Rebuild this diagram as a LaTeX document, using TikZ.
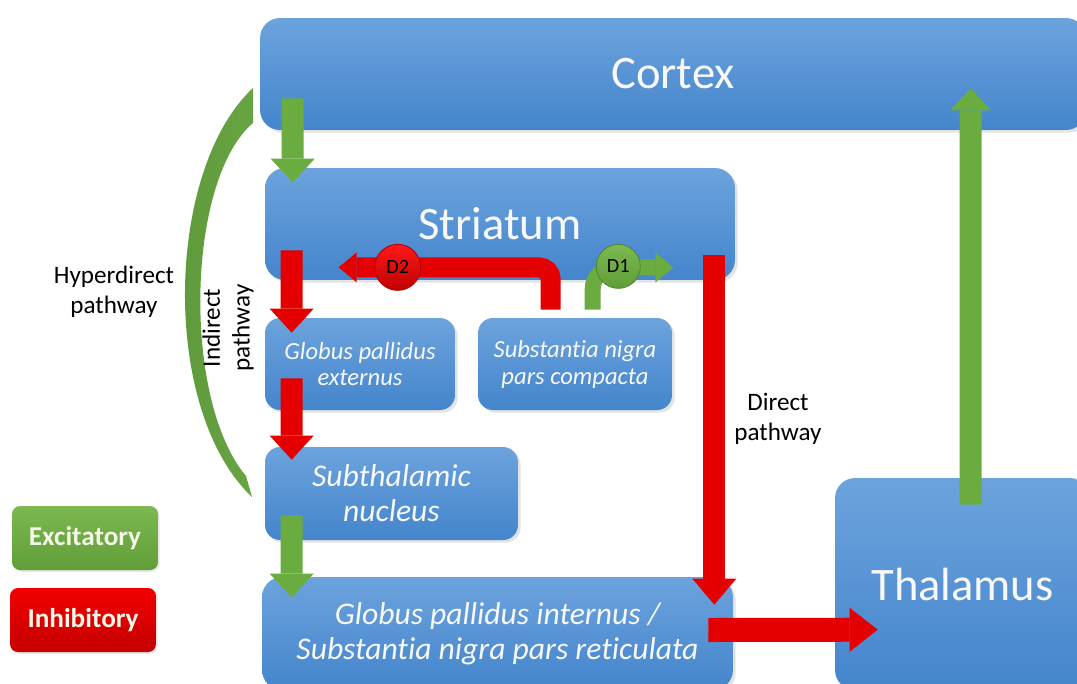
\documentclass[tikz,border=0pt]{standalone}
\usepackage{fontspec}
\setmainfont{Carlito}[Ligatures={NoCommon,NoDiscretionary}]
\usetikzlibrary{arrows.meta,calc,shadows}
\definecolor{boxtop}{RGB}{108,163,221}
\definecolor{boxbot}{RGB}{68,133,204}
\definecolor{grn}{RGB}{106,172,64}
\definecolor{hypgrn}{RGB}{92,150,58}
\definecolor{hypgrnb}{RGB}{104,165,66}
\definecolor{rd}{RGB}{228,0,0}
\definecolor{legga}{RGB}{125,184,80}
\definecolor{leggb}{RGB}{96,158,56}
\definecolor{legra}{RGB}{242,0,0}
\definecolor{legrb}{RGB}{196,0,0}
\definecolor{txtw}{RGB}{248,248,248}
\definecolor{legtxt}{RGB}{245,245,232}
\tikzset{
  box/.style={rounded corners=0.4cm, top color=boxtop, bottom color=boxbot, draw=none,
    text=txtw, align=center, inner sep=0pt,
    drop shadow={opacity=0.22, shadow xshift=1.5pt, shadow yshift=-1.5pt}},
  bigtxt/.style={font=\fontsize{26.5}{31}\selectfont},
  smalltxt/.style={font=\itshape\fontsize{14}{15.3}\selectfont},
  midtxt/.style={font=\itshape\fontsize{18}{20}\selectfont},
  lbl/.style={align=center, font=\fontsize{14.3}{17}\selectfont, text=black},
  exc/.style={draw=grn, line width=0.44cm, -{Triangle[width=0.88cm,length=0.48cm,line width=0pt]}},
  inh/.style={draw=rd, line width=0.44cm, -{Triangle[width=0.88cm,length=0.48cm,line width=0pt]}},
  legbox/.style={rounded corners=0.16cm, draw=none, minimum width=2.92cm, minimum height=1.28cm,
    text=legtxt, font=\bfseries\fontsize{15.5}{18}\selectfont,
    drop shadow={opacity=0.2, shadow xshift=1pt, shadow yshift=-1pt}},
  dcirc/.style={circle, inner sep=0pt, text=black, font=\fontsize{11.5}{13}\selectfont}
}
\begin{document}
\begin{tikzpicture}[x=0.02cm,y=-0.02cm]
\useasboundingbox (0,0) rectangle (1077,683);
\clip (0,0) rectangle (1077,683);
% boxes
\node[box, bigtxt, minimum width=16.52cm, minimum height=2.24cm] (cortex) at (673,74) {Cortex};
\node[box, bigtxt, minimum width=9.4cm, minimum height=2.24cm] (striatum) at (500,224) {Striatum};
\node[box, smalltxt, rounded corners=0.3cm, minimum width=3.8cm, minimum height=1.84cm] (gpe) at (360,364) {Globus pallidus\\externus};
\node[box, smalltxt, rounded corners=0.3cm, minimum width=3.88cm, minimum height=1.84cm] (snc) at (575,364) {Substantia nigra\\pars compacta};
\node[box, midtxt, rounded corners=0.3cm, minimum width=5.06cm, minimum height=1.86cm] (stn) at (391.5,493.5) {Subthalamic\\nucleus};
\node[box, midtxt, minimum width=9.42cm, minimum height=2.26cm] (gpi) at (497.5,633.5) {Globus pallidus internus /\\Substantia nigra pars reticulata};
\node[box, bigtxt, minimum width=5.1cm, minimum height=4.24cm] (thal) at (962.5,584) {Thalamus};
% hyperdirect crescent
\shade[left color=hypgrn, right color=hypgrnb] (253,88) .. controls (165,170) and (160,410) .. (252,497)
  -- (246,476) .. controls (182,400) and (186,180) .. (253,123) -- cycle;
% main arrows
\draw[exc] ($(cortex.south west)+(33,-32)$) -- ($(striatum.north west)+(28,15)$);
\draw[inh] ($(striatum.south west)+(27,-30)$) -- ($(gpe.north west)+(27,15)$);
\draw[inh] ($(gpe.south west)+(27,-32)$) -- ($(stn.north west)+(27,13)$);
\draw[exc] ($(stn.south west)+(27,-25)$) -- ($(gpi.north west)+(30,21)$);
\draw[inh, -{Triangle[width=0.88cm,length=0.52cm,line width=0pt]}] ($(striatum.south east)+(-21,-25)$) -- ($(gpi.north east)+(-19,28)$);
\draw[inh, line width=0.48cm, -{Triangle[width=0.88cm,length=0.56cm,line width=0pt]}] ($(gpi.east)+(-25,-3.5)$) -- ($(thal.north west)+(43,152)$);
\draw[exc, -{Triangle[width=0.82cm,length=0.44cm,line width=0pt]}] ($(thal.north west)+(136,27)$) -- ($(cortex.south west)+(711,-42)$);
% dopamine arrows
\draw[inh, line width=0.4cm, rounded corners=0.24cm, -{Triangle[width=0.6cm,length=0.36cm,line width=0pt]}]
  ($(snc.north west)+(73,-8)$) |- ($(striatum.south west)+(74,-13)$);
\draw[exc, line width=0.32cm, rounded corners=0.44cm, -{Triangle[width=0.6cm,length=0.36cm,line width=0pt]}]
  ($(snc.north west)+(115,-8)$) |- ($(striatum.south east)+(-62,-13)$);
\node[dcirc, minimum size=0.92cm, top color=red!90!white, bottom color=red!75!black, draw=red!70!black, line width=0.5pt] (d2) at ($(striatum.south west)+(133,-13)$) {D2};
\node[dcirc, minimum size=0.88cm, top color=legga, bottom color=leggb, draw=leggb!85!black, line width=0.5pt] (d1) at ($(striatum.south east)+(-117,-14)$) {D1};
% labels
\node[lbl] (hyperlbl) at (114,292) {Hyperdirect\\pathway};
\node[lbl, rotate=90] (indlbl) at (228,328) {Indirect\\pathway};
\node[lbl] (dirlbl) at (778,419) {Direct\\pathway};
% legend
\node[legbox, top color=legga, bottom color=leggb] (excleg) at (85,538) {Excitatory};
\node[legbox, top color=legra, bottom color=legrb] (inhleg) at (83,620) {Inhibitory};
\end{tikzpicture}
\end{document}
